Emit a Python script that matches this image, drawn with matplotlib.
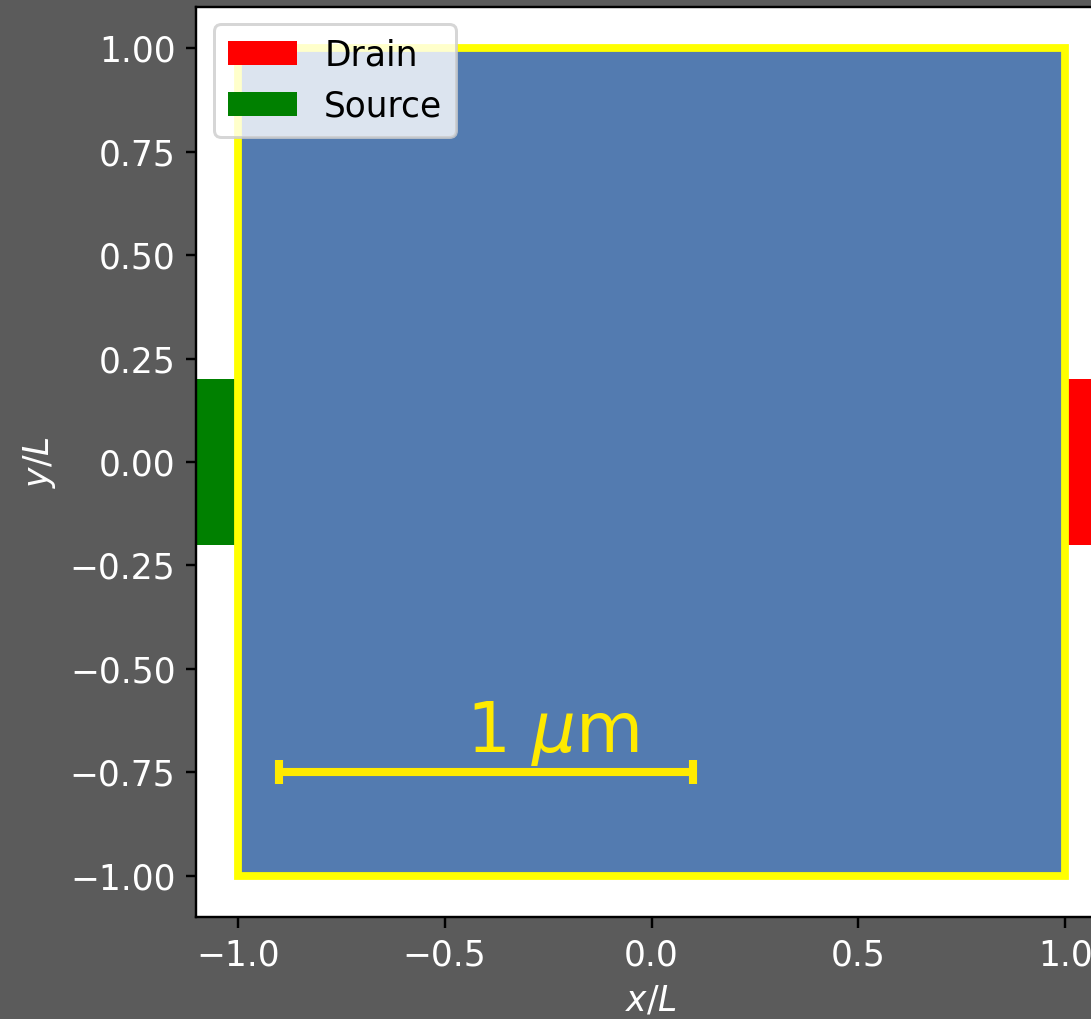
import matplotlib
matplotlib.use("Agg")
import matplotlib.pyplot as plt
from matplotlib.patches import Rectangle

# device geometry, in units of L
channel = (-1.0, -1.0, 2.0, 2.0)          # x0, y0, width, height
source = (-1.1, -0.2, 0.1, 0.4)
drain = (1.0, -0.2, 0.1, 0.4)
limits = (-1.1, 1.1)

xticks = [-1.0, -0.5, 0.0, 0.5, 1.0]
yticks = [-1.0, -0.75, -0.5, -0.25, 0.0, 0.25, 0.5, 0.75, 1.0]

# scale bar: 1 um spans one unit
bar_x = (-0.9, 0.1)
bar_y = -0.75
bar_label = r"1 $\mu$m"
label_pos = (-0.24, -0.70)

bg = "#5b5b5b"
blue = "#537bb0"

plt.rcParams["font.size"] = 11.5

fig = plt.figure(figsize=(1091 / 216, 1019 / 216), dpi=216, facecolor=bg)
ax = fig.add_axes([196 / 1091, 102 / 1019, 911 / 1091, 910 / 1019])

ax.add_patch(Rectangle(source[:2], source[2], source[3],
                       facecolor="green", edgecolor="none", label="Source", zorder=1))
ax.add_patch(Rectangle(drain[:2], drain[2], drain[3],
                       facecolor="red", edgecolor="none", label="Drain", zorder=1))
ax.add_patch(Rectangle(channel[:2], channel[2], channel[3],
                       facecolor=blue, edgecolor="yellow", linewidth=2.6, zorder=2))

mid = (bar_x[0] + bar_x[1]) / 2
half = (bar_x[1] - bar_x[0]) / 2
ax.errorbar(mid, bar_y, xerr=half, color="#ffea00", elinewidth=2.7,
            capsize=4, capthick=2.7, zorder=3)
ax.text(*label_pos, bar_label, color="#ffea00", fontsize=23,
        ha="center", va="baseline", zorder=3)

ax.set_xlim(*limits)
ax.set_ylim(*limits)
ax.set_aspect("equal")
ax.set_xticks(xticks)
ax.set_yticks(yticks)
ax.tick_params(colors="black", labelcolor="white")
ax.set_xlabel(r"$x/L$", color="white")
ax.set_ylabel(r"$y/L$", color="white")

handles, labels = ax.get_legend_handles_labels()
order = [labels.index("Drain"), labels.index("Source")]
ax.legend([handles[i] for i in order], [labels[i] for i in order],
          loc="upper left", fontsize=11.5)

fig.savefig("out.png", dpi=216, facecolor=bg)
